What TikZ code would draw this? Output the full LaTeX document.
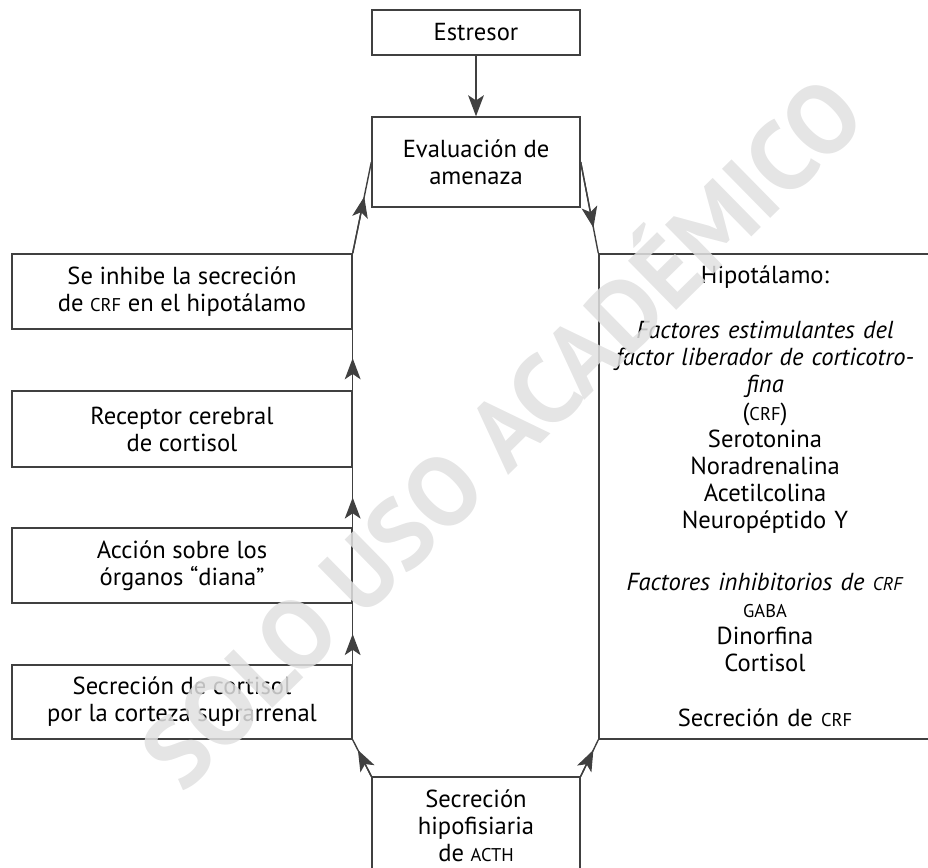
\documentclass[tikz,border=0pt]{standalone}
\usepackage{fontspec}
\setmainfont{PT Sans}
\usepackage{tikz}
\usetikzlibrary{positioning, arrows.meta}

\newcommand{\sca}[1]{{\fontsize{10.5}{11}\selectfont #1}}

\begin{document}
\begin{tikzpicture}[x=0.02cm, y=-0.02cm,
    caja/.style={rectangle, draw=black!75, line width=0.8pt, align=center, inner sep=0pt, font=\fontsize{14}{15.4}\selectfont},
    linea/.style={draw=black!75, line width=0.8pt},
    punta/.style={linea, -{Stealth[length=12pt, width=9pt, inset=3pt]}}]
\useasboundingbox (0,0) rectangle (928,867);

\node[caja, minimum width=4.16cm, minimum height=0.9cm] (est) at (476, 32.5) {Estresor};
\node[caja, minimum width=4.16cm, minimum height=1.8cm] (eval) at (476, 162) {Evaluación de\\amenaza};

\node[caja, minimum width=6.8cm, minimum height=1.5cm] (inh) at (182, 291.5) {Se inhibe la secreción\\de \sca{CRF} en el hipotálamo};
\node[caja, minimum width=6.8cm, minimum height=1.52cm] (rec) at (182, 429) {Receptor cerebral\\de cortisol};
\node[caja, minimum width=6.8cm, minimum height=1.5cm] (acc) at (182, 565.5) {Acción sobre los\\órganos “diana”};
\node[caja, minimum width=6.8cm, minimum height=1.48cm] (sec) at (182, 702) {Secreción de cortisol\\por la corteza suprarrenal};

\node[caja, text width=6.64cm, minimum height=9.7cm] (hip) at (765, 496.5) {Hipotálamo:\\[16pt]
    \textit{Factores estimulantes del}\\
    \textit{factor liberador de corticotro-}\\
    \textit{fina}\\
    (\sca{CRF})\\
    Serotonina\\
    Noradrenalina\\
    Acetilcolina\\
    Neuropéptido Y\\[20pt]
    \textit{Factores inhibitorios de \sca{CRF}}\\
    \sca{GABA}\\
    Dinorfina\\
    Cortisol\\[16pt]
    Secreción de \sca{CRF}};

\node[caja, minimum width=4.16cm, minimum height=1.96cm] (acth) at (476, 826) {Secreción\\hipofisiaria\\de \sca{ACTH}};

\draw[punta] (est) -- (eval);

\draw[linea] (inh.north east) -- coordinate[pos=0.62] (m1) (eval.west);
\draw[punta] (inh.north east) -- (m1);
\draw[linea] (eval.east) -- coordinate[pos=0.72] (m2) (hip.north west);
\draw[punta] (eval.east) -- (m2);

\draw[linea] (rec.north east) -- coordinate[pos=0.53] (m3) (inh.south east);
\draw[punta] (rec.north east) -- (m3);
\draw[linea] (acc.north east) -- coordinate[pos=0.5] (m4) (rec.south east);
\draw[punta] (acc.north east) -- (m4);
\draw[linea] (sec.north east) -- coordinate[pos=0.5] (m5) (acc.south east);
\draw[punta] (sec.north east) -- (m5);

\draw[linea] (acth.north west) -- coordinate[pos=0.72] (m6) (sec.south east);
\draw[punta] (acth.north west) -- (m6);
\draw[linea] (acth.north east) -- coordinate[pos=0.72] (m7) (hip.south west);
\draw[punta] (acth.north east) -- (m7);

\node[rotate=44.5, text=black!12, text opacity=0.85, font=\fontsize{56}{58}\bfseries\selectfont] (marca) at (497, 428) {SOLO USO ACADÉMICO};
\end{tikzpicture}
\end{document}
